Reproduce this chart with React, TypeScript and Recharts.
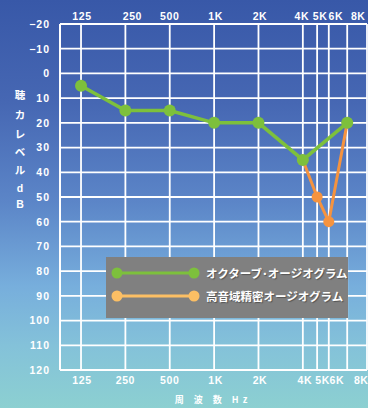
import React from "react";
import { LineChart, Line, XAxis, YAxis, CartesianGrid } from "recharts";

// Test frequencies (Hz) and their axis labels
const frequencies = [125, 250, 500, 1000, 2000, 4000, 5000, 6000, 8000];
const frequencyLabels = ["125", "250", "500", "1K", "2K", "4K", "5K", "6K", "8K"];

// Hearing levels (dB) per frequency; null where a test was not measured
const octaveLevels = [5, 15, 15, 20, 20, 35, null, null, 20];
const precisionLevels = [null, null, null, null, null, 35, 50, 60, 20];

const levelTicks = [-20, -10, 0, 10, 20, 30, 40, 50, 60, 70, 80, 90, 100, 110, 120];

const seriesNames = ["オクターブ･オージオグラム", "高音域精密オージオグラム"];
const yTitleChars = ["聴", "カ", "レ", "ベ", "ル", "d", "B"];

const rows = frequencies.map((f, i) => ({
  freq: f,
  octave: octaveLevels[i],
  precision: precisionLevels[i],
}));

const GREEN = "#7DC03C";
const ORANGE = "#F5933F";
const LEGEND_ORANGE = "#FCBF64";
const LABEL_FONT = "'Liberation Sans', Arial, sans-serif";
const JP_FONT = "'Noto Sans CJK JP', 'Noto Sans', sans-serif";

// small horizontal nudges so the crowded 4K–8K labels don't collide
const topNudge: Record<number, number> = { 125: 1, 250: 7, 500: 0, 1000: 1.5, 2000: 1.5, 4000: -1, 5000: 3, 6000: 7, 8000: 11 };
const bottomNudge: Record<number, number> = { 125: 1, 250: 0, 500: 0, 1000: 1.5, 2000: 1.5, 4000: 2, 5000: 5.5, 6000: 8, 8000: 14 };

const labelFor = (v: number) => frequencyLabels[frequencies.indexOf(v)] ?? String(v);

const TopTick = (props: any) => {
  const { x, payload } = props;
  return (
    <text x={x + (topNudge[payload.value] ?? 0)} y={20} textAnchor="middle" fill="#fff"
      fontFamily={LABEL_FONT} fontWeight="bold" fontSize={10.5} letterSpacing={0.6}>
      {labelFor(payload.value)}
    </text>
  );
};

const BottomTick = (props: any) => {
  const { x, payload } = props;
  return (
    <text x={x + (bottomNudge[payload.value] ?? 0)} y={384} textAnchor="middle" fill="#fff"
      fontFamily={LABEL_FONT} fontWeight="bold" fontSize={10.5} letterSpacing={0.6}>
      {labelFor(payload.value)}
    </text>
  );
};

const LevelTick = (props: any) => {
  const { y, payload } = props;
  const v = payload.value as number;
  const text = v < 0 ? "\u2212" + Math.abs(v) : String(v);
  return (
    <text x={50} y={y + 3.8} textAnchor="end" fill="#fff"
      fontFamily={LABEL_FONT} fontWeight="bold" fontSize={10.5} letterSpacing={1}>
      {text}
    </text>
  );
};

const yTitleY = [95, 115, 134, 152, 170, 188, 204];

export default function App() {
  return (
    <div
      style={{
        position: "absolute",
        left: 0,
        top: 0,
        width: 368,
        height: 408,
        background:
          "linear-gradient(to bottom, #3858A8 0%, #4667B3 25%, #5C86C8 50%, #77AEDC 70%, #84C2D9 85%, #8CD0D1 100%)",
        overflow: "hidden",
      }}
    >
      <LineChart width={368} height={408} data={rows} margin={{ top: 0, right: 1, bottom: 0, left: 0 }}>
        <CartesianGrid stroke="#fff" strokeWidth={1.8} fill="none" />
        <XAxis
          dataKey="freq"
          type="number"
          scale="log"
          domain={[90, 10900]}
          ticks={frequencies}
          interval={0}
          allowDataOverflow
          height={38}
          tickLine={false}
          axisLine={{ stroke: "#fff", strokeWidth: 1.8 }}
          tick={<BottomTick />}
        />
        <XAxis
          xAxisId="top"
          orientation="top"
          dataKey="freq"
          type="number"
          scale="log"
          domain={[90, 10900]}
          ticks={frequencies}
          interval={0}
          allowDataOverflow
          height={24}
          tickLine={false}
          axisLine={{ stroke: "#fff", strokeWidth: 1.8 }}
          tick={<TopTick />}
        />
        <YAxis
          type="number"
          reversed
          domain={[-20, 120]}
          ticks={levelTicks}
          interval={0}
          width={60}
          tickLine={false}
          axisLine={{ stroke: "#fff", strokeWidth: 2 }}
          tick={<LevelTick />}
        />
        <Line
          dataKey="precision"
          name={seriesNames[1]}
          stroke={ORANGE}
          strokeWidth={3}
          dot={{ r: 5.5, fill: ORANGE, stroke: "none" }}
          connectNulls
          isAnimationActive={false}
        />
        <Line
          dataKey="octave"
          name={seriesNames[0]}
          stroke={GREEN}
          strokeWidth={3.5}
          dot={{ r: 6, fill: GREEN, stroke: "none" }}
          connectNulls
          isAnimationActive={false}
        />
      </LineChart>

      {/* axis titles */}
      <svg width={368} height={408} style={{ position: "absolute", left: 0, top: 0, pointerEvents: "none" }}>
        {yTitleChars.map((c, i) => (
          <text key={c + i} x={20} y={yTitleY[i] + 4} textAnchor="middle" fill="#fff"
            fontFamily={i >= 5 ? LABEL_FONT : JP_FONT} fontWeight="bold" fontSize={10.5}>
            {c}
          </text>
        ))}
        <text x={213} y={403} textAnchor="middle" fill="#fff" fontFamily={JP_FONT}
          fontWeight="bold" fontSize={9} letterSpacing={4}>
          周 波 数 Hz
        </text>
      </svg>

      {/* legend */}
      <div
        style={{
          position: "absolute",
          left: 106,
          top: 257,
          width: 242,
          height: 61,
          background: "#808080",
        }}
      >
        <svg width={242} height={61}>
          {[GREEN, LEGEND_ORANGE].map((col, i) => {
            const y = 16 + i * 23;
            return (
              <g key={col}>
                <line x1={11} x2={88} y1={y} y2={y} stroke={col} strokeWidth={3} />
                <circle cx={11} cy={y} r={5.5} fill={col} />
                <circle cx={88} cy={y} r={5.5} fill={col} />
                <text x={100} y={y + 4.5} fill="#fff" fontFamily={JP_FONT} fontWeight="bold"
                  fontSize={11.5} style={{ textShadow: "1px 1px 1px rgba(0,0,0,0.35)" }}>
                  {seriesNames[i]}
                </text>
              </g>
            );
          })}
        </svg>
      </div>
    </div>
  );
}
